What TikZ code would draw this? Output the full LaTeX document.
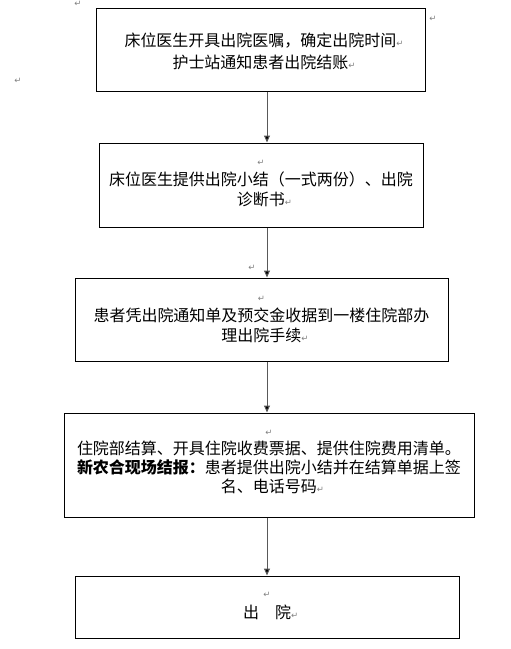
\documentclass[tikz,border=0pt]{standalone}
\usepackage{fontspec}
\setmainfont{Noto Sans CJK SC}
\newfontfamily\markfont{DejaVu Sans}
\usetikzlibrary{arrows.meta}
\newcommand{\pmark}{{\markfont\fontsize{8.5}{8.5}\selectfont\color{black!50}↵}}
\newcommand{\emark}{\rlap{\pmark}}
\begin{document}
\begin{tikzpicture}[x=1pt,y=-1pt,
  box/.style={draw, line width=1pt, inner sep=0pt},
  txt/.style={inner sep=0pt, align=center, font=\fontsize{16}{20}\selectfont},
  flow/.style={draw=black!65, line width=1pt, -{Triangle[width=6pt,length=7pt,fill=black]}},
  pm/.style={inner sep=0pt, text=black!50, font=\markfont\fontsize{8.5}{8.5}\selectfont}]
\useasboundingbox (0,0) rectangle (511,649);
\coordinate (ax) at (267,0);
% boxes
\node[box, minimum width=329pt, minimum height=83pt] (b1) at (260.5,49.5) {};
\node[box, minimum width=324pt, minimum height=84pt] (b2) at (261,185) {};
\node[box, minimum width=373pt, minimum height=83pt] (b3) at (261.5,319.5) {};
\node[box, minimum width=410pt, minimum height=104pt] (b4) at (269,465) {};
\node[box, minimum width=384pt, minimum height=62pt] (b5) at (267,607) {};
% texts
\node[txt, font=\fontsize{16}{22}\selectfont] (t1) at (260.5,51) {床位医生开具出院医嘱，确定出院时间\emark\\护士站通知患者出院结账\emark};
\node[txt] (t2) at (261,183.5) {\pmark\\床位医生提供出院小结（一式两份）、出院\\诊断书\emark};
\node[txt] (t3) at (261.5,319.5) {\pmark\\患者凭出院通知单及预交金收据到一楼住院部办\\理出院手续\emark};
\node[txt, font=\fontsize{16}{19}\selectfont] (t4) at (269,462) {\pmark\\住院部结算、开具住院收费票据、提供住院费用清单。\\\textbf{新农合现场结报：}患者提供出院小结并在结算单据上签\\名、电话号码\emark};
\node[txt, font=\fontsize{16}{21}\selectfont] (t5) at (267,606) {\pmark\\出\quad 院\emark};
% stray paragraph marks
\node[pm] (m1) at (78,4) {↵};
\node[pm] (m2) at (433,19) {↵};
\node[pm] (m3) at (18,81) {↵};
\node[pm] (m4) at (252,268) {↵};
% connectors
\draw[flow] (b1.south -| ax) -- (b2.north -| ax);
\draw[flow] (b2.south -| ax) -- (b3.north -| ax);
\draw[flow] (b3.south -| ax) -- (b4.north -| ax);
\draw[flow] (b4.south -| ax) -- (b5.north -| ax);
\end{tikzpicture}
\end{document}
